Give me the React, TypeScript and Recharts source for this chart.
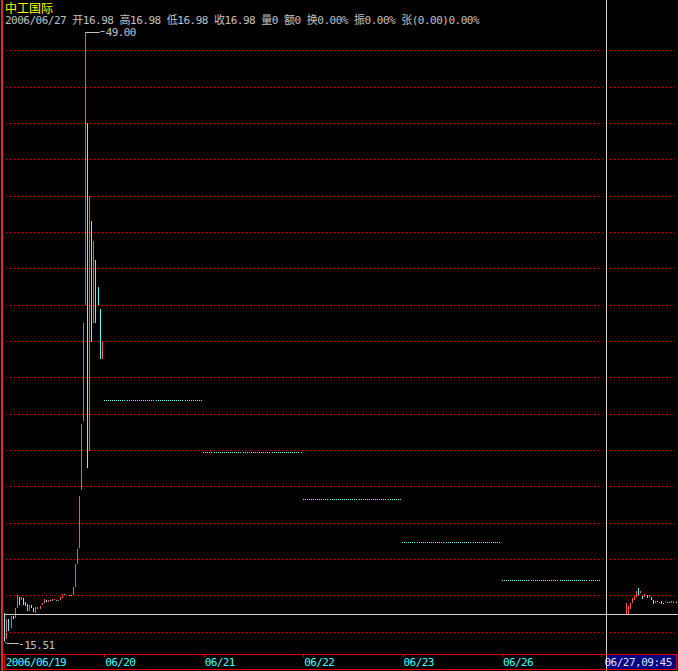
import React from "react";
import {
  ComposedChart,
  Bar,
  XAxis,
  YAxis,
  ReferenceLine,
  ReferenceDot,
} from "recharts";

const stockName = "中工国际";
const quoteLine =
  "2006/06/27 开16.98 高16.98 低16.98 收16.98 量0 额0 换0.00% 振0.00% 张(0.00)0.00%";
const dayLabels = ["2006/06/19", "06/20", "06/21", "06/22", "06/23", "06/26", "06/27"];
const barsPerDay = 48;
const priceTicks = [16, 18, 20, 22, 24, 26, 28, 30, 32, 34, 36, 38, 40, 42, 44, 46, 48];

// 06/19, 5-minute bars (high / low, 1 = closed up)
const day1High = [
  17.05, 16.71, 16.71, 16.89, 16.89, 17.33, 18.03, 17.9, 17.9, 17.84, 17.66, 17.53,
  17.47, 17.47, 17.33, 17.38, 17.38, 17.44, 17.57, 17.8, 17.75, 17.75, 17.75, 17.8,
  17.8, 17.75, 17.75, 17.9, 18.08, 18.08, 18.03, 18.03, 18.03, 18.45, 19.73, 20.56,
  23.47, 27.43, 32.97, 49.0, 43.98, 39.98, 38.6, 37.5, 36.46, 34.95, 33.76, 31.93,
];
const day1Low = [
  15.51, 15.61, 16.05, 16.23, 16.71, 16.78, 17.29, 17.44, 17.71, 17.47, 17.44, 17.16,
  17.16, 17.29, 17.11, 17.05, 17.26, 17.29, 17.44, 17.57, 17.62, 17.66, 17.7, 17.71,
  17.75, 17.7, 17.7, 17.75, 17.88, 18.03, 17.97, 17.97, 17.97, 18.03, 18.48, 19.73,
  20.63, 23.8, 27.56, 33.98, 25.0, 25.96, 31.96, 33.01, 33.01, 33.89, 30.99, 30.99,
];
const day1Up = [
  0, 1, 0, 1, 0, 1, 1, 0, 1, 0, 0, 0, 1, 0, 0, 1, 1, 1, 1, 1, 0, 1, 0, 1,
  1, 0, 1, 1, 1, 0, 0, 0, 0, 1, 1, 1, 1, 1, 1, 1, 0, 1, 0, 1, 0, 0, 0, 1,
];

// 06/20 - 06/26: one price all day
const flatDayPrice = [28.74, 25.87, 23.28, 20.95, 18.86];

// 06/27: idle bars first, then trading
const day7IdlePrice = 16.98;
const day7IdleBars = 12;
const day7High = [
  17.57, 17.44, 17.6, 17.84, 18.03, 18.26, 18.39, 18.25, 18.03, 18.08, 18.03, 18.03, 17.93,
  17.75, 17.71, 17.71, 17.66, 17.71, 17.6, 17.69, 17.66, 17.64, 17.71, 17.71, 17.66,
];
const day7Low = [
  16.96, 16.96, 17.28, 17.57, 17.75, 17.93, 17.97, 18.12, 17.79, 17.93, 17.84, 17.93, 17.75,
  17.53, 17.62, 17.64, 17.62, 17.57, 17.57, 17.62, 17.6, 17.57, 17.62, 17.6, 17.6,
];
const day7Up = [1, 1, 1, 1, 1, 1, 0, 1, 0, 1, 0, 1, 0, 0, 1, 0, 1, 0, 0, 1, 0, 0, 1, 1, 0];

const cursorDay = 6;
const cursorBar = cursorDay * barsPerDay + 2;
const cursorPrice = 16.98;
const cursorLabel = "06/27,09:45";

const W = 678;
const H = 671;
const RED = "#ff5454";
const CYAN = "#54ffff";
const GRAY = "#c0c0c0";
const MONO = "'DejaVu Sans Mono', 'Noto Sans CJK SC', monospace";

type Row = { i: number; range: [number, number]; up: boolean };
const rows: Row[] = [];
day1High.forEach((h, k) =>
  rows.push({ i: rows.length, range: [day1Low[k], h], up: day1Up[k] === 1 })
);
flatDayPrice.forEach((p) => {
  for (let k = 0; k < barsPerDay; k++) rows.push({ i: rows.length, range: [p, p], up: false });
});
for (let k = 0; k < day7IdleBars; k++)
  rows.push({ i: rows.length, range: [day7IdlePrice, day7IdlePrice], up: true });
day7High.forEach((h, k) =>
  rows.push({ i: rows.length, range: [day7Low[k], h], up: day7Up[k] === 1 })
);

const dayStarts = dayLabels.map((_, d) => d * barsPerDay);
let maxIdx = 0;
let minIdx = 0;
rows.forEach((r, k) => {
  if (r.range[1] > rows[maxIdx].range[1]) maxIdx = k;
  if (r.range[0] < rows[minIdx].range[0]) minIdx = k;
});

const Stick = (p: any) => {
  const { x, y, width, height, payload } = p;
  if (x == null || y == null) return null;
  const cx = Math.round(x + width / 2 - 0.5);
  const top = Math.round(Math.min(y, y + height));
  const h = Math.max(1, Math.round(Math.abs(height)));
  return <rect x={cx} y={top} width={1} height={h} fill={payload.up ? RED : CYAN} />;
};

const DayTick = (p: any) => {
  const d = dayStarts.indexOf(p.payload.value);
  const tx = Math.round(p.x) + 0.5;
  return (
    <g>
      {d > 0 && <line x1={tx} x2={tx} y1={654} y2={657} stroke="#e00000" />}
      {d !== cursorDay && (
        <text
          x={p.x + 1}
          y={666}
          fill="#40ffff"
          fontFamily={MONO}
          fontSize={11}
          letterSpacing={-0.6}
        >
          {dayLabels[d]}
        </text>
      )}
    </g>
  );
};

const GridLine = (p: any) => {
  const y = Math.round(p.y1) + 0.5;
  return (
    <line x1={6} x2={W} y1={y} y2={y} stroke="#dc0000" strokeDasharray="1 3" />
  );
};

const MaxTag = (p: any) => {
  const { cx, cy } = p;
  const y = Math.round(cy) + 0.5;
  return (
    <g>
      <line x1={cx} x2={cx + 14} y1={y} y2={y} stroke={GRAY} />
      <line x1={cx + 15} x2={cx + 19} y1={y - 1} y2={y - 1} stroke={GRAY} />
      <text x={cx + 20} y={cy + 4} fill={GRAY} fontFamily={MONO} fontSize={11} letterSpacing={-0.6}>
        {day1High[maxIdx].toFixed(2)}
      </text>
    </g>
  );
};

const MinTag = (p: any) => {
  const { cx, cy } = p;
  const y = Math.round(cy) + 0.5;
  return (
    <g>
      <polyline
        points={`${cx},${y} ${cx + 2},${y + 2} ${cx + 14},${y + 2}`}
        fill="none"
        stroke={GRAY}
      />
      <line x1={cx + 15} x2={cx + 18} y1={y + 3} y2={y + 3} stroke={GRAY} />
      <text x={cx + 19.5} y={cy + 8} fill={GRAY} fontFamily={MONO} fontSize={11} letterSpacing={-0.6}>
        {day1Low[minIdx].toFixed(2)}
      </text>
    </g>
  );
};

const CrossV = (p: any) => {
  const x = Math.round(p.x1) + 0.5;
  return (
    <g>
      <line x1={x} x2={x} y1={0} y2={H} stroke="#d0d0d0" />
      <rect x={x + 0.5} y={655} width={676 - x} height={14} fill="#000080" />
      <text x={x - 2} y={666} fill="#e0e0ff" fontFamily={MONO} fontSize={11} letterSpacing={-0.5}>
        {cursorLabel}
      </text>
    </g>
  );
};

const CrossH = (p: any) => {
  const y = Math.round(p.y1) + 0.5;
  return <line x1={4} x2={W} y1={y} y2={y} stroke="#d0d0d0" />;
};

export default function App() {
  return (
    <div
      style={{
        position: "absolute",
        left: 0,
        top: 0,
        width: W,
        height: H,
        background: "#000",
        overflow: "hidden",
      }}
    >
      <ComposedChart
        width={W}
        height={H}
        data={rows}
        margin={{ top: 13.82, right: 0.9, bottom: 0, left: 3.8 }}
        barCategoryGap={0}
      >
        <XAxis
          dataKey="i"
          type="category"
          ticks={dayStarts}
          interval={0}
          tick={<DayTick />}
          tickLine={false}
          axisLine={false}
          height={21}
        />
        <YAxis domain={[15, 50]} ticks={priceTicks} hide allowDataOverflow />
        {priceTicks.map((v) => (
          <ReferenceLine key={v} y={v} shape={(p: any) => <GridLine {...p} />} />
        ))}
        <ReferenceLine y={cursorPrice} shape={(p: any) => <CrossH {...p} />} />
        <ReferenceLine x={cursorBar} shape={(p: any) => <CrossV {...p} />} />
        <Bar dataKey="range" shape={<Stick />} isAnimationActive={false} />
        <ReferenceDot
          x={maxIdx}
          y={day1High[maxIdx]}
          r={0}
          ifOverflow="visible"
          shape={(p: any) => <MaxTag {...p} />}
        />
        <ReferenceDot
          x={minIdx}
          y={day1Low[minIdx]}
          r={0}
          ifOverflow="visible"
          shape={(p: any) => <MinTag {...p} />}
        />
      </ComposedChart>
      <svg
        width={W}
        height={H}
        style={{ position: "absolute", left: 0, top: 0, pointerEvents: "none" }}
      >
        <rect x={1} y={0} width={2} height={H} fill="#e02828" />
        <rect x={4.5} y={654.5} width={672} height={15} fill="none" stroke="#e00000" />
        <text x={5} y={12.5} fill="#ffff00" fontFamily="'Noto Sans CJK SC', sans-serif" fontSize={12}>
          {stockName}
        </text>
        <text x={5} y={24} fill={GRAY} fontFamily={MONO} fontSize={11} letterSpacing={-0.5}>
          {quoteLine}
        </text>
      </svg>
    </div>
  );
}
